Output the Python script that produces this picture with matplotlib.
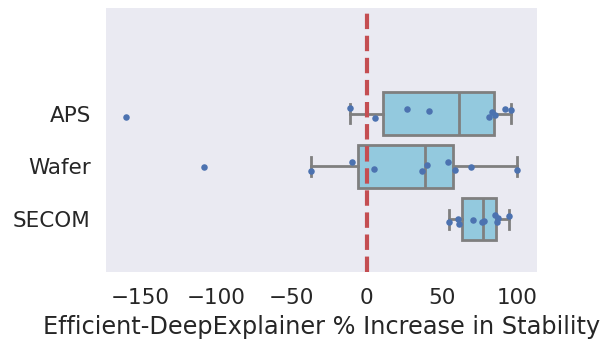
import matplotlib
matplotlib.use("Agg")
import matplotlib.pyplot as plt
import numpy as np

categories = ["APS", "Wafer", "SECOM"]
aps_values = [-160, -11, 5.4, 26.5, 41, 81, 83.4, 85, 92, 96]
wafer_values = [-108, -37.3, -9.5, 4.9, 37, 40, 54, 58.5, 69.3, 100]
secom_values = [54.8, 60.5, 61.2, 70.2, 76.2, 77.5, 85.4, 86.3, 86.8, 94.3]
# vertical jitter of the strip points (category units)
aps_jitter = [0.07, -0.11, 0.08, -0.09, -0.045, 0.07, -0.03, 0.02, -0.08, -0.06]
wafer_jitter = [0.01, 0.08, -0.08, 0.045, 0.08, -0.02, -0.075, 0.06, 0.01, 0.06]
secom_jitter = [0.045, 0.0, 0.1, 0.01, 0.06, 0.03, -0.08, 0.045, -0.015, -0.06]
xlabel = "Efficient-DeepExplainer % Increase in Stability"

values = [aps_values, wafer_values, secom_values]
jitters = [aps_jitter, wafer_jitter, secom_jitter]

text_color = "#262626"
plt.rcParams["font.family"] = ["DejaVu Sans"]

fig = plt.figure(figsize=(6.0, 3.43), dpi=100)
ax = fig.add_axes([0.1767, 0.207, 0.895 - 0.1767, 0.9767 - 0.207])
ax.set_facecolor("#EAEAF2")
for s in ax.spines.values():
    s.set_visible(False)

positions = np.arange(len(categories))
line_color = "#7f7f7f"
lw = 2.0
ax.boxplot(values, positions=positions, widths=0.8, orientation="horizontal",
           patch_artist=True, showfliers=False, capwidths=0.36,
           boxprops=dict(facecolor="#93C9DE", edgecolor=line_color, linewidth=lw),
           medianprops=dict(color=line_color, linewidth=lw),
           whiskerprops=dict(color=line_color, linewidth=lw),
           capprops=dict(color=line_color, linewidth=lw),
           zorder=2)

ax.axvline(0, color="#C44E52", linestyle="--", linewidth=3, zorder=3)

for i, (v, j) in enumerate(zip(values, jitters)):
    ax.scatter(v, positions[i] + np.array(j), s=22, color="#4C72B0",
               linewidths=0, zorder=4)

ax.set_ylim(3.0, -2.0)
ax.set_xlim(-173, 113)
ax.set_yticks(positions)
ax.set_yticklabels(categories)
ax.set_xticks([-150, -100, -50, 0, 50, 100])
ax.tick_params(axis="x", length=0, pad=11.5, labelsize=15.5, colors=text_color)
ax.tick_params(axis="y", length=0, pad=11, labelsize=15.5, colors=text_color)
ax.set_xlabel(xlabel, fontsize=17.3, color=text_color, labelpad=5)

fig.savefig("out.png", dpi=100)
